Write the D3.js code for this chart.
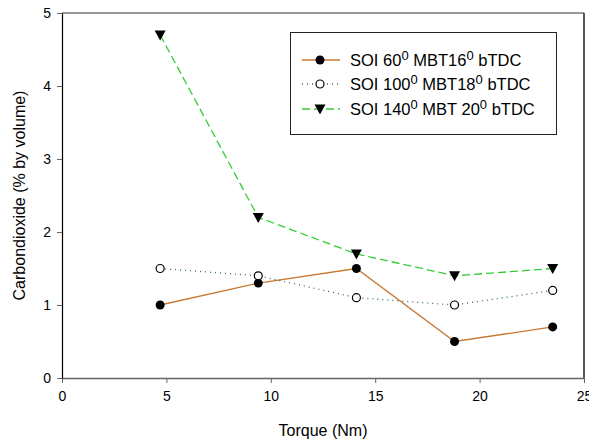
<!DOCTYPE html>
<html>
<head>
<meta charset="utf-8">
<script src="https://cdn.jsdelivr.net/npm/d3@7"></script>
<style>
  body { margin: 0; background: #fff; }
  text { font-family: "Liberation Sans", Arial, sans-serif; fill: #000; }
</style>
</head>
<body>
<div class="chart"></div>
<script>
var torque = [4.7, 9.4, 14.1, 18.8, 23.5];
var soi60 = [1.0, 1.3, 1.5, 0.5, 0.7];
var soi100 = [1.5, 1.4, 1.1, 1.0, 1.2];
var soi140 = [4.7, 2.2, 1.7, 1.4, 1.5];
var xTicks = [0, 5, 10, 15, 20, 25];
var yTicks = [0, 1, 2, 3, 4, 5];

var series = [
  {name: ["SOI 60", "0", " MBT16", "0", " bTDC"], values: soi60, color: "#c8782f", dash: null, marker: "filled"},
  {name: ["SOI 100", "0", " MBT18", "0", " bTDC"], values: soi100, color: "#2f6f5f", dash: "1,4", marker: "open"},
  {name: ["SOI 140", "0", " MBT 20", "0", " bTDC"], values: soi140, color: "#33cc33", dash: "8,4", marker: "tri"}
];

var width = 589, height = 443;
var margin = {top: 13, right: 5, bottom: 65, left: 62};

var svg = d3.select(".chart").append("svg")
    .attr("width", width)
    .attr("height", height);

var x = d3.scaleLinear().domain([0, 25]).range([margin.left, width - margin.right]);
var y = d3.scaleLinear().domain([0, 5]).range([height - margin.bottom, margin.top]);

// frame
svg.append("line").attr("x1", x(0)).attr("x2", x(25)).attr("y1", y(5)).attr("y2", y(5))
    .attr("stroke", "#777").attr("stroke-width", 1.5);
svg.append("line").attr("x1", x(25)).attr("x2", x(25)).attr("y1", y(5)).attr("y2", y(0))
    .attr("stroke", "#222").attr("stroke-width", 1.5);

var xAxis = svg.append("g")
    .attr("transform", "translate(0," + y(0) + ")")
    .call(d3.axisBottom(x).tickValues(xTicks).tickFormat(d3.format("d")).tickSize(5).tickPadding(8).tickSizeOuter(0));
xAxis.select(".domain").attr("stroke", "#666").attr("stroke-width", 1.5);
xAxis.selectAll(".tick line").attr("stroke", "#666");
xAxis.selectAll("text").style("font-size", "14px").attr("fill", "#000");

var yAxis = svg.append("g")
    .attr("transform", "translate(" + x(0) + ",0)")
    .call(d3.axisLeft(y).tickValues(yTicks).tickFormat(d3.format("d")).tickSize(5).tickPadding(6).tickSizeOuter(0));
yAxis.select(".domain").attr("stroke", "#000").attr("stroke-width", 1.2);
yAxis.selectAll(".tick line").attr("stroke", "#666");
yAxis.selectAll("text").style("font-size", "14px").attr("fill", "#000");

// axis titles
svg.append("text")
    .attr("x", (x(0) + x(25)) / 2)
    .attr("y", 436)
    .attr("text-anchor", "middle")
    .style("font-size", "16px")
    .text("Torque (Nm)");

svg.append("text")
    .attr("transform", "translate(25," + ((y(0) + y(5)) / 2) + ") rotate(-90)")
    .attr("text-anchor", "middle")
    .style("font-size", "16px")
    .text("Carbondioxide (% by volume)");

function drawMarker(g, kind, cx, cy) {
  if (kind == "filled") {
    g.append("circle").attr("cx", cx).attr("cy", cy).attr("r", 4.5).attr("fill", "#000");
  } else if (kind == "open") {
    g.append("circle").attr("cx", cx).attr("cy", cy).attr("r", 4).attr("fill", "#fff")
      .attr("stroke", "#000").attr("stroke-width", 1.2);
  } else {
    g.append("path")
      .attr("d", "M" + (cx - 5.5) + "," + (cy - 4.5) + "L" + (cx + 5.5) + "," + (cy - 4.5) + "L" + cx + "," + (cy + 5.5) + "Z")
      .attr("fill", "#000");
  }
}

var line = d3.line()
    .x(function(d, i) { return x(torque[i]); })
    .y(function(d) { return y(d); });

series.forEach(function(s) {
  var g = svg.append("g");
  g.append("path")
    .attr("d", line(s.values))
    .attr("fill", "none")
    .attr("stroke", s.color)
    .attr("stroke-width", 1.3)
    .attr("stroke-dasharray", s.dash);
  s.values.forEach(function(v, i) {
    drawMarker(g, s.marker, x(torque[i]), y(v));
  });
});

// legend
var lg = svg.append("g");
lg.append("rect")
    .attr("x", 290.5).attr("y", 32.5)
    .attr("width", 266).attr("height", 102)
    .attr("fill", "#fff").attr("stroke", "#222").attr("stroke-width", 1);

var rowY = [60, 84, 109];
series.forEach(function(s, i) {
  var ly = rowY[i];
  lg.append("line")
    .attr("x1", 302).attr("x2", 340).attr("y1", ly).attr("y2", ly)
    .attr("stroke", s.color).attr("stroke-width", 1.3)
    .attr("stroke-dasharray", s.dash);
  drawMarker(lg, s.marker, 320, ly);
  var t = lg.append("text")
    .attr("x", 350).attr("y", ly + 6)
    .style("font-size", "16.5px");
  s.name.forEach(function(part, j) {
    var ts = t.append("tspan").text(part);
    if (j % 2 == 1) {
      ts.attr("dy", -6).style("font-size", "13px");
    } else if (j > 0) {
      ts.attr("dy", 6);
    }
  });
});
</script>
</body>
</html>
